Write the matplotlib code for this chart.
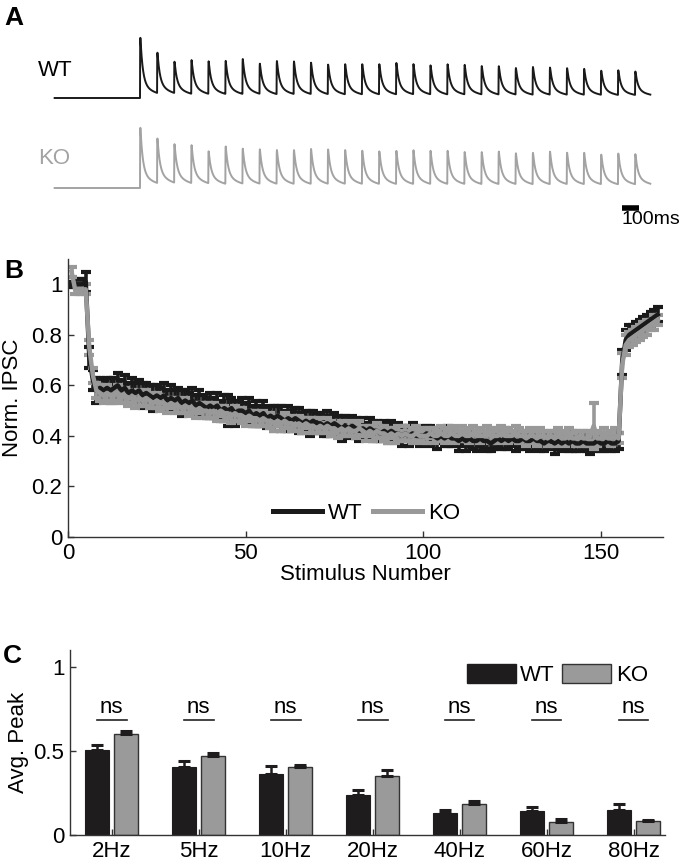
import numpy as np
import matplotlib
matplotlib.use("Agg")
import matplotlib.pyplot as plt
from matplotlib.patches import Patch
from matplotlib.lines import Line2D

plt.rcParams['font.family'] = ['Liberation Sans', 'DejaVu Sans']

# ---------------- Panel A data: peak amplitude of each IPSC (normalised to first) ----
wt_amp = [1.00, 0.67, 0.52, 0.56, 0.54, 0.55, 0.58, 0.50, 0.55, 0.54,
          0.52, 0.49, 0.50, 0.50, 0.50, 0.52, 0.50, 0.48, 0.50, 0.49,
          0.47, 0.47, 0.44, 0.46, 0.45, 0.44, 0.43, 0.40, 0.41, 0.39]
ko_amp = [1.00, 0.74, 0.64, 0.63, 0.53, 0.62, 0.58, 0.57, 0.56, 0.56,
          0.58, 0.57, 0.56, 0.55, 0.54, 0.55, 0.56, 0.55, 0.55, 0.53,
          0.53, 0.54, 0.51, 0.52, 0.54, 0.52, 0.52, 0.49, 0.51, 0.50]
pulse_interval_s = 0.1

# ---------------- Panel B data ----------------
wt_norm = [1.00, 1.00, 1.00, 1.00, 1.01,
           0.71, 0.62, 0.58, 0.59, 0.58,
           0.59, 0.58, 0.59, 0.60, 0.58, 0.59, 0.57, 0.58, 0.57, 0.58,
           0.56, 0.57, 0.56, 0.55, 0.56, 0.55, 0.56, 0.54, 0.55, 0.54,
           0.55, 0.53, 0.54, 0.53, 0.54, 0.52, 0.53, 0.52, 0.51, 0.52,
           0.51, 0.52, 0.50, 0.51, 0.50, 0.51, 0.49, 0.50, 0.50, 0.49,
           0.50, 0.48, 0.49, 0.48, 0.49, 0.47, 0.48, 0.47, 0.48, 0.47,
           0.46, 0.47, 0.46, 0.47, 0.46, 0.45, 0.46, 0.45, 0.46, 0.45,
           0.45, 0.44, 0.45, 0.44, 0.45, 0.44, 0.43, 0.44, 0.43, 0.44,
           0.43, 0.42, 0.43, 0.42, 0.43, 0.42, 0.42, 0.41, 0.42, 0.41,
           0.42, 0.41, 0.41, 0.40, 0.41, 0.40, 0.41, 0.40, 0.40, 0.40,
           0.41, 0.40, 0.40, 0.39, 0.40, 0.39, 0.40, 0.39, 0.39, 0.38,
           0.39, 0.38, 0.39, 0.38, 0.38, 0.39, 0.38, 0.38, 0.37, 0.38,
           0.39, 0.38, 0.39, 0.38, 0.39, 0.38, 0.38, 0.39, 0.38, 0.38,
           0.39, 0.38, 0.38, 0.37, 0.38, 0.38, 0.37, 0.38, 0.37, 0.38,
           0.37, 0.38, 0.37, 0.37, 0.38, 0.37, 0.37, 0.37, 0.38, 0.37,
           0.37, 0.38, 0.37, 0.37, 0.38,
           0.69, 0.78, 0.80, 0.81, 0.82, 0.83, 0.84, 0.85, 0.86, 0.87, 0.88]
wt_norm_err = [0.01, 0.01, 0.02, 0.02, 0.04,
               0.04, 0.04, 0.05, 0.04, 0.04,
               0.04, 0.05, 0.04, 0.05, 0.04, 0.05, 0.04, 0.05, 0.04, 0.04,
               0.05, 0.04, 0.04, 0.05, 0.04, 0.04, 0.05, 0.04, 0.05, 0.04,
               0.04, 0.05, 0.04, 0.04, 0.05, 0.04, 0.05, 0.04, 0.04, 0.05,
               0.04, 0.05, 0.04, 0.05, 0.06, 0.04, 0.05, 0.04, 0.05, 0.04,
               0.05, 0.04, 0.05, 0.04, 0.05, 0.04, 0.04, 0.05, 0.04, 0.05,
               0.04, 0.05, 0.04, 0.04, 0.05, 0.04, 0.04, 0.05, 0.04, 0.04,
               0.04, 0.04, 0.05, 0.04, 0.04, 0.04, 0.05, 0.04, 0.04, 0.04,
               0.04, 0.04, 0.04, 0.03, 0.04, 0.04, 0.04, 0.03, 0.04, 0.04,
               0.04, 0.03, 0.04, 0.04, 0.03, 0.04, 0.04, 0.03, 0.04, 0.03,
               0.03, 0.04, 0.03, 0.04, 0.03, 0.03, 0.04, 0.03, 0.03, 0.04,
               0.03, 0.04, 0.03, 0.03, 0.04, 0.03, 0.03, 0.04, 0.03, 0.03,
               0.03, 0.03, 0.04, 0.03, 0.03, 0.04, 0.03, 0.03, 0.03, 0.04,
               0.03, 0.03, 0.04, 0.03, 0.03, 0.03, 0.04, 0.03, 0.03, 0.03,
               0.03, 0.04, 0.03, 0.03, 0.03, 0.03, 0.04, 0.03, 0.03, 0.03,
               0.03, 0.03, 0.03, 0.03, 0.03,
               0.05, 0.04, 0.04, 0.03, 0.03, 0.03, 0.03, 0.03, 0.03, 0.03, 0.03]
ko_norm = [1.05, 0.98, 0.98, 0.98, 0.98,
           0.75, 0.64, 0.58, 0.57, 0.56,
           0.57, 0.56, 0.56, 0.57, 0.55, 0.56, 0.55, 0.55, 0.54, 0.55,
           0.54, 0.55, 0.54, 0.53, 0.54, 0.53, 0.53, 0.52, 0.53, 0.52,
           0.52, 0.51, 0.52, 0.51, 0.51, 0.50, 0.51, 0.50, 0.50, 0.49,
           0.50, 0.49, 0.50, 0.49, 0.49, 0.48, 0.49, 0.48, 0.48, 0.47,
           0.48, 0.47, 0.47, 0.46, 0.47, 0.46, 0.46, 0.45, 0.46, 0.45,
           0.46, 0.45, 0.45, 0.44, 0.45, 0.44, 0.45, 0.44, 0.44, 0.43,
           0.44, 0.43, 0.44, 0.43, 0.43, 0.42, 0.43, 0.42, 0.43, 0.42,
           0.42, 0.43, 0.42, 0.41, 0.42, 0.41, 0.42, 0.41, 0.41, 0.40,
           0.41, 0.40, 0.41, 0.40, 0.41, 0.40, 0.40, 0.41, 0.40, 0.40,
           0.40, 0.41, 0.40, 0.40, 0.41, 0.40, 0.40, 0.41, 0.40, 0.40,
           0.41, 0.40, 0.40, 0.41, 0.40, 0.40, 0.40, 0.41, 0.40, 0.40,
           0.40, 0.41, 0.40, 0.40, 0.40, 0.41, 0.40, 0.40, 0.39, 0.40,
           0.40, 0.39, 0.40, 0.40, 0.39, 0.40, 0.39, 0.40, 0.39, 0.39,
           0.40, 0.39, 0.39, 0.40, 0.39, 0.39, 0.40, 0.44, 0.39, 0.39,
           0.40, 0.39, 0.39, 0.40, 0.39,
           0.68, 0.76, 0.78, 0.79, 0.80, 0.81, 0.82, 0.83, 0.84, 0.85, 0.86]
ko_norm_err = [0.02, 0.02, 0.02, 0.02, 0.02,
               0.03, 0.03, 0.03, 0.03, 0.03,
               0.03, 0.02, 0.03, 0.03, 0.02, 0.03, 0.03, 0.02, 0.03, 0.03,
               0.02, 0.03, 0.03, 0.02, 0.03, 0.03, 0.02, 0.03, 0.02, 0.03,
               0.03, 0.02, 0.03, 0.03, 0.02, 0.03, 0.02, 0.03, 0.03, 0.02,
               0.03, 0.03, 0.02, 0.03, 0.02, 0.03, 0.03, 0.02, 0.03, 0.03,
               0.02, 0.03, 0.03, 0.02, 0.03, 0.02, 0.03, 0.03, 0.02, 0.03,
               0.03, 0.02, 0.03, 0.02, 0.03, 0.03, 0.02, 0.03, 0.03, 0.02,
               0.03, 0.02, 0.03, 0.03, 0.02, 0.03, 0.03, 0.02, 0.03, 0.02,
               0.03, 0.03, 0.02, 0.03, 0.02, 0.03, 0.03, 0.02, 0.03, 0.03,
               0.02, 0.03, 0.03, 0.02, 0.03, 0.02, 0.03, 0.03, 0.02, 0.03,
               0.03, 0.02, 0.03, 0.02, 0.03, 0.03, 0.02, 0.03, 0.03, 0.02,
               0.03, 0.02, 0.03, 0.03, 0.02, 0.03, 0.02, 0.03, 0.03, 0.02,
               0.03, 0.03, 0.02, 0.03, 0.02, 0.03, 0.03, 0.02, 0.03, 0.03,
               0.02, 0.03, 0.03, 0.02, 0.03, 0.02, 0.03, 0.03, 0.02, 0.03,
               0.03, 0.02, 0.03, 0.02, 0.03, 0.03, 0.02, 0.09, 0.03, 0.02,
               0.03, 0.02, 0.03, 0.03, 0.02,
               0.05, 0.04, 0.03, 0.03, 0.03, 0.03, 0.03, 0.03, 0.02, 0.03, 0.02]
stim_number = np.arange(1, len(wt_norm) + 1)

# ---------------- Panel C data ----------------
freqs = ['2Hz', '5Hz', '10Hz', '20Hz', '40Hz', '60Hz', '80Hz']
wt_peak = [0.505, 0.405, 0.365, 0.235, 0.130, 0.142, 0.147]
wt_sem = [0.030, 0.036, 0.045, 0.033, 0.020, 0.024, 0.038]
ko_peak = [0.603, 0.467, 0.402, 0.352, 0.186, 0.078, 0.082]
ko_sem = [0.016, 0.021, 0.015, 0.035, 0.016, 0.018, 0.010]

WT_C = '#1e1c1d'
KO_C = '#9a9a9a'
FS = 16

W, H = 680, 866
fig = plt.figure(figsize=(W / 100, H / 100), dpi=100)


def fx(px):
    return px / W


def fy(py):
    return 1 - py / H


# ---------------- Panel A ----------------
axA = fig.add_axes([0, fy(230), 1, 230 / H])
axA.axis('off')
px_per_s = 170.7
t0_px = 140
axA.set_xlim((0 - t0_px) / px_per_s, (W - t0_px) / px_per_s)
axA.set_ylim(230, 0)

t = np.arange(-0.5, 2.99, 0.0005)


def trace(amps):
    sig = np.zeros_like(t)
    for k, a in enumerate(amps):
        s = t - k * pulse_interval_s
        m = s >= 0
        ss = s[m]
        g = (1 - np.exp(-ss / 0.0006)) * (0.78 * np.exp(-ss / 0.014) + 0.22 * np.exp(-ss / 0.09))
        sig[m] += a * g
    return sig


scale_px = 70
axA.plot(t, 98 - scale_px * trace(wt_amp), color='#1a1a1a', lw=1.4)
axA.plot(t, 188 - scale_px * trace(ko_amp), color='#a3a3a3', lw=1.4)
axA.text((38 - t0_px) / px_per_s, 70, 'WT', fontsize=FS, color='black', va='center', ha='left')
axA.text((38 - t0_px) / px_per_s, 158, 'KO', fontsize=FS, color='#a3a3a3', va='center', ha='left')
sb0 = (622 - t0_px) / px_per_s
axA.plot([sb0, sb0 + 0.1], [208, 208], color='black', lw=4, solid_capstyle='butt')
axA.text(sb0, 211, '100ms', fontsize=14, va='top', ha='left')

# ---------------- Panel B ----------------
axB = fig.add_axes([fx(68), fy(537), (663 - 68) / W, (537 - 259) / H])
axB.errorbar(stim_number, wt_norm, yerr=wt_norm_err, color='#1a1a1a', lw=3.2,
             elinewidth=2.6, capsize=3.6, capthick=3.0)
axB.errorbar(stim_number, ko_norm, yerr=ko_norm_err, color='#999999', lw=3.2,
             elinewidth=2.6, capsize=3.6, capthick=3.0)
axB.set_xlim(0, 167.5)
axB.set_ylim(0, 1.1)
axB.set_xticks([0, 50, 100, 150])
axB.set_yticks([0, 0.2, 0.4, 0.6, 0.8, 1.0])
axB.set_yticklabels(['0', '0.2', '0.4', '0.6', '0.8', '1'])
axB.set_xlabel('Stimulus Number', fontsize=FS, labelpad=0)
axB.set_ylabel('Norm. IPSC', fontsize=FS, labelpad=6)
axB.legend(handles=[Line2D([], [], color='#1a1a1a', lw=3.6, label='WT'),
                    Line2D([], [], color='#999999', lw=3.6, label='KO')],
           loc='center', bbox_to_anchor=(0.502, 0.086), ncol=2, frameon=False,
           fontsize=FS, handlelength=2.2, handletextpad=0.25, columnspacing=0.5,
           borderpad=0)

# ---------------- Panel C ----------------
axC = fig.add_axes([fx(70), fy(835), (665 - 70) / W, (835 - 650) / H])
xc = np.arange(1, len(freqs) + 1)
bw = 0.275
off = 0.165
axC.bar(xc - off, wt_peak, bw, color=WT_C, edgecolor=WT_C, lw=0.8,
        yerr=[np.zeros(len(wt_sem)), wt_sem],
        error_kw=dict(ecolor=WT_C, elinewidth=1.8, capsize=4, capthick=2.2), zorder=2)
axC.bar(xc + off, ko_peak, bw, color=KO_C, edgecolor='#333333', lw=1.0,
        yerr=[np.zeros(len(ko_sem)), ko_sem],
        error_kw=dict(ecolor=WT_C, elinewidth=1.8, capsize=4, capthick=2.2), zorder=2)
for xi in xc:
    axC.plot([xi - 0.17, xi + 0.17], [0.685, 0.685], color='#222222', lw=1.2)
    axC.text(xi, 0.695, 'ns', ha='center', va='bottom', fontsize=FS)
axC.set_xlim(0.52, 7.36)
axC.set_ylim(0, 1.1)
axC.set_xticks(xc)
axC.set_xticklabels(freqs)
axC.set_yticks([0, 0.5, 1])
axC.set_yticklabels(['0', '0.5', '1'])
axC.set_ylabel('Avg. Peak', fontsize=FS, labelpad=3)
axC.legend(handles=[Patch(facecolor=WT_C, edgecolor=WT_C, label='WT'),
                    Patch(facecolor=KO_C, edgecolor='#333333', label='KO')],
           loc='upper right', bbox_to_anchor=(0.99, 0.985), ncol=2, frameon=False,
           fontsize=FS, handlelength=2.2, handleheight=0.95, handletextpad=0.2,
           columnspacing=0.35, borderpad=0)

for ax in (axB, axC):
    for sp in ('top', 'right'):
        ax.spines[sp].set_visible(False)
    for sp in ('left', 'bottom'):
        ax.spines[sp].set_linewidth(1.0)
        ax.spines[sp].set_color('#333333')
    ax.tick_params(direction='in', length=4, width=1.0, labelsize=FS, pad=4, color='#333333')

# panel letters
fig.text(fx(4), fy(6), 'A', fontsize=19, fontweight='bold', va='top', ha='left')
fig.text(fx(4), fy(259), 'B', fontsize=19, fontweight='bold', va='top', ha='left')
fig.text(fx(3), fy(644), 'C', fontsize=19, fontweight='bold', va='top', ha='left')

fig.savefig('out.png', dpi=100)
